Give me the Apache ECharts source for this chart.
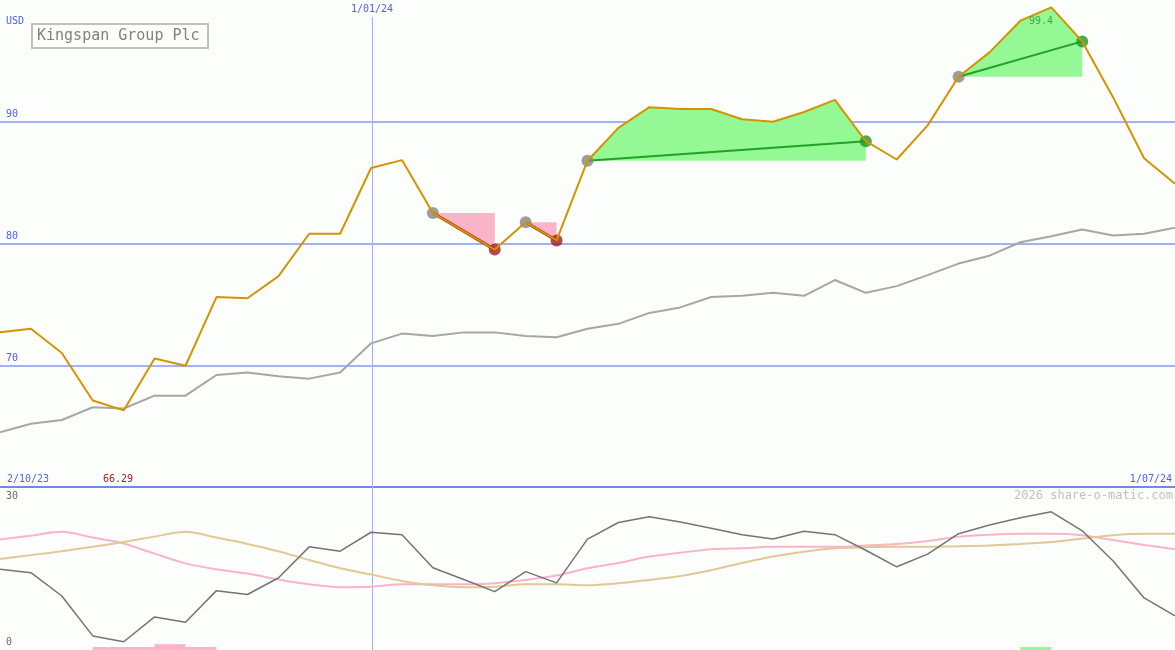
<!DOCTYPE html>
<html><head><meta charset="utf-8">
<script src="https://cdn.jsdelivr.net/npm/echarts@6/dist/echarts.min.js"></script>
<style>html,body{margin:0;padding:0;background:#fcfefc}#c{width:1175px;height:650px}</style>
</head><body><div id="c"></div>
<script>
// ---- data (weekly points, index 0 = 2/10/23 ... index 38 = 1/07/24) ----
const price = [72.7,73.0,71.0,67.1,66.29,70.56,69.96,75.6,75.5,77.3,80.8,80.8,86.2,86.85,82.5,81.0,79.5,81.75,80.25,86.8,89.5,91.2,91.05,91.05,90.2,90.0,90.8,91.8,88.4,86.9,89.7,93.7,95.7,98.3,99.4,96.6,92.0,87.0,84.9];
const average = [64.5,65.2,65.5,66.55,66.45,67.5,67.5,69.2,69.4,69.1,68.9,69.4,71.8,72.6,72.4,72.7,72.7,72.4,72.3,73.0,73.4,74.3,74.75,75.6,75.7,75.95,75.7,77.0,75.95,76.5,77.4,78.35,79.0,80.1,80.6,81.15,80.65,80.8,81.3];
const momentum = [16.2,15.5,10.7,2.5,1.3,6.4,5.3,11.8,11.0,14.4,20.8,19.9,23.8,23.3,16.5,14.1,11.6,15.7,13.4,22.4,25.8,27.0,25.9,24.6,23.3,22.4,24.0,23.3,20.1,16.7,19.3,23.5,25.3,26.8,28.0,24.1,17.9,10.3,6.6];
const pinkAvg = [22.3,23.1,23.9,22.7,21.5,19.4,17.4,16.2,15.3,14.1,13.1,12.5,12.6,13.1,13.1,13.1,13.3,14.0,14.9,16.4,17.5,18.8,19.6,20.3,20.5,20.8,20.8,20.8,21.1,21.4,22.0,22.9,23.3,23.5,23.5,23.2,22.2,21.2,20.3];
const tanAvg = [18.3,19.1,19.9,20.8,21.8,22.9,23.9,22.7,21.4,19.9,18.1,16.4,15.1,13.8,12.9,12.5,12.6,13.1,13.1,12.9,13.3,14.0,14.8,16.0,17.5,18.8,19.8,20.5,20.7,20.8,20.8,20.9,21.1,21.4,21.8,22.5,23.2,23.5,23.5];
const buyTrades = [[19,28],[31,35]];
const sellTrades = [[14,16],[17,18]];
const sellStrips = [[3,7,0.6],[5,6,1.2]];
const buyStrips = [[33,34,0.6]];
const priceTicks = [70,80,90];
const lowerTicks = ['30','0'];
const yearMarkPos = 12.047; // 1 Jan 2024, just after the week-12 point
const dateLabels = ['2/10/23','1/01/24','1/07/24'];
const title = 'Kingspan Group Plc';
const currency = 'USD';

// ---- chart ----
const MONO = '"DejaVu Sans Mono", "Liberation Mono", monospace';
const BLUE = '#4e5ee8';
const VLINE = '#a0b0f8';
const lastIdx = price.length - 1;
const pts = arr => arr.map((v, i) => [i, v]);
const range = (s, e) => { const r = []; for (let i = s; i <= e; i++) r.push(i); return r; };
const LOW_MIN = -0.4, LOW_MAX = 33.1;

// polygon between the price path and the entry level of a trade
const tradeArea = (trades, color) => ({
  type: 'custom', xAxisIndex: 0, yAxisIndex: 0, z: 3, silent: true, clip: true,
  data: trades,
  renderItem: (params, api) => {
    const s = api.value(0), e = api.value(1);
    const points = range(s, e).map(i => api.coord([i, price[i]]));
    points.push(api.coord([e, price[s]]), api.coord([s, price[s]]));
    return { type: 'polygon', shape: { points }, style: { fill: color } };
  }
});

const series = [];
series.push({
  type: 'line', xAxisIndex: 0, yAxisIndex: 0, data: pts(average), showSymbol: false,
  lineStyle: { color: '#a6a6a6', width: 2 }, z: 2, silent: true,
  markLine: {
    z: 1, silent: true, symbol: ['none', 'none'], label: { show: false },
    lineStyle: { color: '#a4b0f4', width: 2, type: 'solid' },
    data: priceTicks.map(v => ({ yAxis: v }))
  }
});
series.push(tradeArea(buyTrades, '#94f894'));
series.push(tradeArea(sellTrades, '#fab4ca'));
buyTrades.forEach(([s, e]) => series.push({ type: 'line', data: [[s, price[s]], [e, price[e]]], showSymbol: false, lineStyle: { color: '#24a024', width: 2 }, z: 4, silent: true }));
sellTrades.forEach(([s, e]) => series.push({ type: 'line', data: [[s, price[s]], [e, price[e]]], showSymbol: false, lineStyle: { color: '#a81c1c', width: 3 }, z: 4, silent: true }));
const entries = buyTrades.concat(sellTrades).map(t => t[0]);
series.push({
  type: 'scatter', data: entries.map(i => [i, price[i]]), symbolSize: 12, itemStyle: { color: '#858585' }, z: 5, silent: true,
  markLine: {
    z: 1, silent: true, symbol: ['none', 'none'], label: { show: false },
    lineStyle: { color: VLINE, width: 1, type: 'solid' },
    data: [[{ coord: [yearMarkPos, 98.6] }, { coord: [yearMarkPos, 60] }]]
  }
});
series.push({ type: 'scatter', data: sellTrades.map(t => [t[1], price[t[1]]]), symbolSize: 12, itemStyle: { color: '#a41e1e' }, z: 5, silent: true });
series.push({ type: 'scatter', data: buyTrades.map(t => [t[1], price[t[1]]]), symbolSize: 12, itemStyle: { color: '#229622' }, z: 5, silent: true });
series.push({ type: 'line', data: pts(price), showSymbol: false, lineStyle: { color: '#d49400', width: 2 }, z: 6, silent: true });

// lower panel
const strip = (arr, color) => arr.map(([s, e, h]) => [{ coord: [s, LOW_MIN], itemStyle: { color } }, { coord: [e, LOW_MIN + h] }]);
series.push({ type: 'line', xAxisIndex: 1, yAxisIndex: 1, data: pts(pinkAvg), showSymbol: false, smooth: 0.3, lineStyle: { color: '#f8b4c8', width: 2 }, z: 2, silent: true });
series.push({ type: 'line', xAxisIndex: 1, yAxisIndex: 1, data: pts(tanAvg), showSymbol: false, smooth: 0.3, lineStyle: { color: '#e2c894', width: 2 }, z: 2, silent: true });
series.push({
  type: 'line', xAxisIndex: 1, yAxisIndex: 1, data: pts(momentum), showSymbol: false,
  lineStyle: { color: '#747474', width: 1.5 }, z: 3, silent: true,
  markLine: { z: 1, silent: true, symbol: ['none', 'none'], label: { show: false }, lineStyle: { color: VLINE, width: 1, type: 'solid' }, data: [{ xAxis: yearMarkPos }] },
  markArea: { silent: true, data: strip(sellStrips, '#fab4ca').concat(strip(buyStrips, '#94f894')) }
});

const maxP = Math.max(...price), minP = Math.min(...price);
const txt = (x, y, text, fill, size, align) => ({ type: 'text', x, y, z: 100, style: { text, fill, font: (size || 10) + 'px ' + MONO, textAlign: align || 'left', textVerticalAlign: 'middle' } });

const option = {
  backgroundColor: '#fcfefc',
  animation: false,
  grid: [
    { left: 0, right: 0, top: 0, height: 487 },
    { left: 0, right: 0, top: 487, height: 163 }
  ],
  xAxis: [
    { gridIndex: 0, type: 'value', min: 0, max: lastIdx, axisLine: { show: true, onZero: false, lineStyle: { color: '#7088e8', width: 2 } }, axisTick: { show: false }, axisLabel: { show: false }, splitLine: { show: false } },
    { gridIndex: 1, type: 'value', min: 0, max: lastIdx, axisLine: { show: false }, axisTick: { show: false }, axisLabel: { show: false }, splitLine: { show: false } }
  ],
  yAxis: [
    { gridIndex: 0, type: 'value', min: 60, max: 100, interval: 10, axisLine: { show: false }, axisTick: { show: false }, splitLine: { show: false },
      axisLabel: { inside: true, margin: 6, color: BLUE, fontSize: 10, fontFamily: MONO, verticalAlign: 'bottom', padding: [0, 0, 2, 0], showMinLabel: false, showMaxLabel: false } },
    { gridIndex: 1, type: 'value', min: LOW_MIN, max: LOW_MAX, show: false, splitLine: { show: false } }
  ],
  graphic: [
    txt(6, 21, currency, BLUE, 10),
    { type: 'rect', z: 100, shape: { x: 32, y: 24, width: 176, height: 24 }, style: { fill: '#fcfefc', stroke: '#c0c0c0', lineWidth: 2 } },
    txt(37, 36.5, title, '#808080', 15),
    txt(372, 9, dateLabels[1], BLUE, 10, 'center'),
    txt(7, 479, dateLabels[0], BLUE, 10),
    txt(103, 479, minP.toFixed(2), '#a82020', 10),
    txt(1172, 479, dateLabels[2], BLUE, 10, 'right'),
    txt(6, 496, lowerTicks[0], '#6a6a6a', 10),
    txt(6, 642, lowerTicks[1], '#6a6a6a', 10),
    txt(1173, 496, '2026 share-o-matic.com', '#c0c0c0', 12, 'right'),
    txt(1029, 21, String(maxP), '#40a840', 10)
  ],
  series
};
const chart = echarts.init(document.getElementById('c'));
chart.setOption(option);
</script>
</body></html>
